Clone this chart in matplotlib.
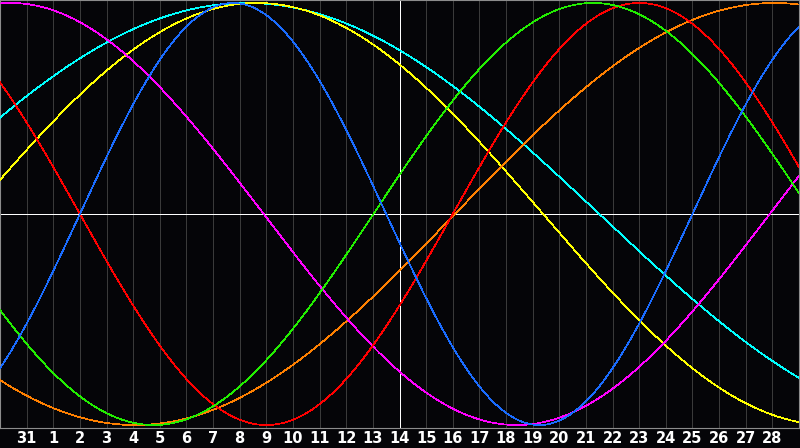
import numpy as np
import matplotlib
matplotlib.use("Agg")
import matplotlib.pyplot as plt

# day labels under the grid lines (30 Jan .. 1 Mar, 30 intervals)
day_labels = ["31"] + [str(i) for i in range(1, 29)]
n_days = 30
today = 15

# cycles: period in days, day (from left edge) where the cycle crosses zero going up
periods = [23, 28, 33, 38, 43, 48, 53]
zero_up = [3.0, 17.0, 14.02, 28.9, -1.11, 17.08, -4.0]
colors = ["#1a6cff", "#ff0000", "#22ee00", "#ff00ff", "#ffff00", "#ff8000", "#00ffff"]
draw_order = [6, 4, 5, 3, 1, 2, 0]

bg = "#050508"
fig = plt.figure(figsize=(8, 4.48), dpi=100, facecolor=bg)
ax = fig.add_axes([0, 20 / 448, 799 / 800, 428 / 448])
ax.set_facecolor(bg)

for d in range(1, n_days):
    if d != today:
        ax.axvline(d, color="#3a3a3a", lw=0.5, antialiased=False, zorder=1)
ax.axvline(today, color="white", lw=0.5, antialiased=False, zorder=2)
ax.axhline(0, color="white", lw=0.5, antialiased=False, zorder=2)

t = np.linspace(0, n_days, 801)
for i in draw_order:
    ax.plot(t, np.sin(2 * np.pi * (t - zero_up[i]) / periods[i]),
            color=colors[i], lw=0.5, antialiased=False, zorder=3)

ax.set_xlim(0, n_days)
ax.set_ylim(-1.014, 1.014)
ax.set_xticks([])
ax.set_yticks([])
for s in ax.spines.values():
    s.set_color("#8c8c8c")
    s.set_linewidth(0.8)

for d, lab in zip(range(1, n_days), day_labels):
    fig.text(d / n_days * 799 / 800, 9.5 / 448, lab, color="white", fontsize=10.5,
             fontweight="bold", ha="center", va="center", family="DejaVu Sans")

fig.savefig("out.png", dpi=100, facecolor=bg)
